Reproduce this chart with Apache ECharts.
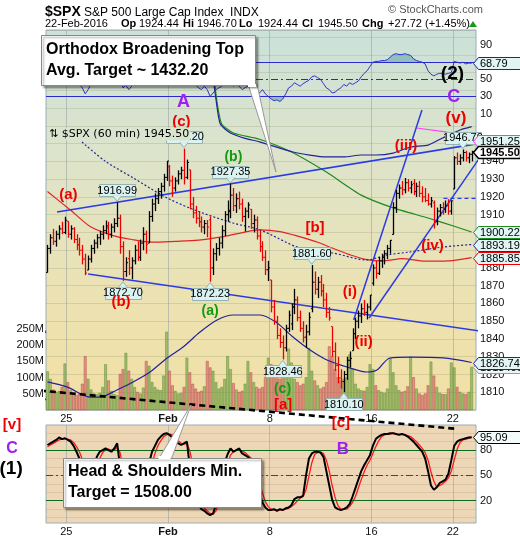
<!DOCTYPE html>
<html>
<head>
<meta charset="utf-8">
<title>$SPX 60 min</title>
<script src="https://cdn.jsdelivr.net/npm/echarts@6.0.0/dist/echarts.min.js"></script>
<style>
html,body{margin:0;padding:0;background:#fff;}
#chart{width:520px;height:540px;}
</style>
</head>
<body>
<div id="chart"></div>
<script>
// ---------------------------------------------------------------
// $SPX hourly bars, 22-Jan-2016 .. 22-Feb-2016, 7 bars per session
// ---------------------------------------------------------------
const sessionStarts = [7, 42, 77, 112, 140];
const sessionLabels = ['25', 'Feb', '8', '16', '22'];

// [open, high, low, close]
const ohlc = [
  // Jan 22
  [1877.4,1893,1877.4,1891],[1891,1899,1888,1897],[1897,1902,1893,1895],[1895,1901,1892,1899],[1899,1904,1896,1902],[1902,1906,1899,1900],[1900,1908.85,1899,1906.9],
  // Jan 25
  [1906.3,1906.3,1897,1899],[1899,1904,1896,1902],[1902,1903,1894,1896],[1896,1899,1890,1893],[1893,1897,1887,1890],[1890,1893,1882,1885],[1885,1888,1875.97,1877.08],
  // Jan 26
  [1878.8,1887,1878.8,1885],[1885,1893,1883,1891],[1891,1896,1888,1894],[1894,1899,1891,1897],[1897,1901,1893,1899],[1899,1904,1896,1901],[1901,1906.7,1899,1903.63],
  // Jan 27
  [1902.5,1906,1896,1899],[1899,1905,1897,1903],[1903,1908,1900,1905],[1905,1916.99,1903,1908],[1908,1910,1888,1892],[1892,1895,1872.7,1878],[1878,1886,1875,1882.95],
  // Jan 28
  [1885.2,1890,1876,1880],[1880,1886,1873.65,1884],[1884,1893,1882,1890],[1890,1895,1884,1886],[1886,1896,1884,1894],[1894,1902.96,1890,1899],[1899,1901,1888,1893.36],
  // Jan 29
  [1894,1912,1894,1909],[1909,1919,1906,1916],[1916,1922,1912,1919],[1919,1925,1916,1923],[1923,1928,1919,1926],[1926,1933,1923,1931],[1931,1940.24,1929,1940.24],
  // Feb 1
  [1936.9,1938,1926,1929],[1929,1932,1920.03,1925],[1925,1931,1923,1929],[1929,1935,1927,1933],[1933,1937,1930,1935],[1935,1947.2,1927,1931],[1931,1941,1930,1939.38],
  // Feb 2
  [1935.26,1935.26,1913,1916],[1916,1920,1908,1911],[1911,1915,1905,1908],[1908,1912,1903,1906],[1906,1909,1900,1903],[1903,1907,1899,1905],[1905,1907,1897.29,1903.03],
  // Feb 3
  [1907.07,1909,1872.23,1880],[1880,1891,1876,1888],[1888,1894,1884,1891],[1891,1897,1887,1894],[1894,1904,1891,1901],[1901,1912,1898,1910],[1910,1918.01,1906,1912.53],
  // Feb 4
  [1911.67,1927.35,1908,1921],[1921,1925,1912,1915],[1915,1922,1911,1919],[1919,1923,1913,1916],[1916,1919,1906,1909],[1909,1914,1900.52,1912],[1912,1917,1908,1915.45],
  // Feb 5
  [1913.07,1913.07,1902,1905],[1905,1910,1900,1907],[1907,1909,1896,1898],[1898,1901,1889,1892],[1892,1895,1884,1886],[1886,1890,1876,1879],[1879,1884,1872.65,1880.05],
  // Feb 8
  [1873.25,1873.25,1855,1858],[1858,1862,1848,1850],[1850,1853,1840,1842],[1842,1846,1835,1838],[1838,1842,1828.46,1835],[1835,1848,1833,1846],[1846,1856,1844,1853.44],
  // Feb 9
  [1848.46,1860,1845,1858],[1858,1868.25,1854,1862],[1862,1864,1850,1852],[1852,1856,1844,1846],[1846,1850,1838,1841],[1841,1848,1834.94,1844],[1844,1855,1842,1852.21],
  // Feb 10
  [1857.1,1881.6,1855,1872],[1872,1878,1865,1868],[1868,1875,1863,1872],[1872,1876,1864,1867],[1867,1871,1858,1862],[1862,1866,1852,1855],[1855,1858,1850.32,1851.86],
  // Feb 11
  [1847,1847,1830,1833],[1833,1838,1822,1825],[1825,1830,1815,1818],[1818,1823,1812,1816],[1816,1822,1810.1,1820],[1820,1830,1817,1828],[1828,1833,1824,1829.08],
  // Feb 12
  [1833.4,1846,1833.4,1843],[1843,1852,1840,1850],[1850,1856,1846,1853],[1853,1860,1849,1857],[1857,1862,1853,1855],[1855,1860,1851,1858],[1858,1864.78,1856,1864.78],
  // Feb 16
  [1871.44,1882,1870,1880],[1880,1884,1874,1877],[1877,1886,1876,1884],[1884,1888,1880,1886],[1886,1890,1882,1888],[1888,1893,1885,1891],[1891,1895.77,1888,1895.58],
  // Feb 17
  [1898.8,1917,1898.8,1914],[1914,1924,1911,1922],[1922,1927,1919,1925],[1925,1929,1921,1924],[1924,1930.68,1922,1928],[1928,1930,1923,1925],[1925,1929,1922,1926.82],
  // Feb 18
  [1927.57,1930,1921,1923],[1923,1928,1920,1926],[1926,1929,1920,1922],[1922,1926,1917,1920],[1920,1925,1917,1918],[1918,1922,1915.09,1916],[1916,1920,1914,1917.83],
  // Feb 19
  [1916.74,1918,1902.17,1906],[1906,1914,1904,1912],[1912,1916,1909,1914],[1914,1917,1910,1913],[1913,1918,1911,1915],[1915,1918.78,1910,1912],[1912,1918,1910,1917.78],
  // Feb 22
  [1924.44,1943,1924.44,1942],[1942,1945,1938,1940],[1940,1944,1938,1942],[1942,1946.7,1940,1945],[1945,1946,1940,1942],[1942,1945,1939,1944],[1944,1946,1940,1945.5]
];

// hourly volume, millions of shares
const volumeM = [
  118,95,62,55,58,70,142,   85,60,48,45,50,80,165,   95,62,50,48,52,70,140,
  90,58,48,45,110,125,175,  120,95,70,55,50,68,150,  135,85,70,62,60,105,240,
  120,75,58,50,52,70,160,   115,80,65,55,58,72,150,  130,120,85,65,70,95,165,
  125,82,62,55,58,80,150,   115,85,70,65,70,100,160, 140,120,110,95,100,110,188,
  145,95,85,75,80,100,190,  120,90,75,65,70,85,195,  165,125,100,90,95,100,170,
  125,80,65,60,58,70,140,   125,75,60,55,52,65,160,  115,75,60,55,58,72,163,
  100,65,50,45,50,75,148,   105,70,52,48,48,65,145,  130,70,55,50,48,55,131.3409
];

// RSI(14)
const rsi14 = [
  48,52,55,54,57,58,62,  60,58,52,47,44,40,33,  38,45,50,53,55,58,59,
  57,60,62,64,52,40,43,  38,42,49,45,52,56,52,  58,64,67,70,72,75,80,
  70,66,68,70,72,73,74,  55,48,44,40,38,42,38,  30,34,38,40,42,45,47,
  46,42,44,42,38,40,42,  40,41,36,34,38,33,30,  27,25,26,24,27,33,40,
  42,46,44,42,45,47,49,  53,54,52,50,45,40,38,  34,35,38,40,44,42,46,
  44,46,48,53,57,60,65,  70,71,71,72,72,73,76,  79,80,79,79,80,79,78,
  74,72,71,70,68,60,56,  54,56,57,57,56,57,58,  71,70,69,70,68,69,68.79
];

// Slow stochastic %K and %D
const stochK = [
  86,88,90,92,95,93,94,  92,90,85,78,70,60,48,  30,45,60,72,78,80,82,
  80,78,82,88,60,30,25,  15,20,35,30,45,55,50,  65,78,85,92,96,99,100,
  98,95,90,88,86,88,90,  60,40,25,15,10,8,5,    3,5,15,30,50,65,75,
  82,78,80,82,76,74,72,  68,55,40,28,18,12,9,   9,10,8,10,9,11,12,
  15,22,24,24,26,50,70,  76,78,78,77,72,55,38,  21,12,10,9,10,12,16,
  25,35,45,55,62,68,74,  85,93,96,98,99,99,100, 100,99,98,99,98,96,93,
  90,86,82,78,70,55,38,  33,36,41,43,45,52,68,  85,90,92,93,94,95,95.09
];
const stochD = [
  84,86,88,90,92,93,94,  93,92,89,84,78,69,59,  46,41,45,59,70,77,80,
  81,80,80,83,77,59,38,  23,20,23,28,37,43,50,  57,64,76,85,91,96,98,
  99,98,94,91,88,87,88,  79,63,42,27,17,11,8,   5,4,8,17,32,48,63,
  74,78,80,80,79,77,74,  71,65,54,41,29,19,13,  10,9,9,9,9,10,11,
  13,16,20,23,25,33,49,  65,75,77,78,76,68,55,  38,24,14,10,10,10,13,
  18,25,35,45,54,62,68,  76,84,91,96,98,99,99,  100,99,99,99,98,97,96,
  93,90,86,82,77,68,54,  43,36,38,40,43,47,55,  68,81,89,92,93,94,95
];

// overlays as [bar, value]
const smaRed = [[0,1923],[8,1912.5],[15,1903],[22,1898.5],[29,1896],[36,1894.5],[44,1895],[52,1895.7],[60,1897.5],[66,1899.5],[73,1901.4],[80,1900.5],[87,1897.5],[93,1894.5],[98,1891.2],[104,1887.5],[110,1884.7],[116,1884],[122,1885.3],[130,1883.8],[138,1884],[146,1885.85]];
const smaGreen = [[57,1992],[58.5,1972],[60,1961],[64,1956],[73,1952.5],[84,1945.3],[96,1934],[108,1921],[119,1913.8],[131,1908.1],[140,1903.5],[146,1900.22]];
const bbUpper = [[56.5,1994],[58,1975],[59.5,1961],[63,1956],[68,1953],[73,1951],[84.5,1945.3],[96,1942.5],[102,1942.5],[108,1943.6],[113,1943.6],[119,1944.7],[125,1948.1],[131,1949.2],[136,1953.2],[142,1957.7],[146,1959.6]];
const bbMiddle = [[11.9,1950.9],[20,1940],[29.5,1930.7],[41.2,1919.4],[52.5,1911.5],[63.9,1905.3],[73.2,1901.4],[86.9,1891.2],[98.3,1888.4],[110,1884.5],[116.9,1887.3],[124.8,1889],[136.2,1891.8],[146,1893.19]];
const bbLower = [[0,1815.8],[6.7,1813],[14.6,1807.3],[18.1,1807.3],[23.9,1811.3],[29.5,1815.8],[35.3,1821.4],[41.2,1829.3],[46.7,1835.5],[52.5,1843.9],[58.4,1850.7],[63.9,1853.5],[73.2,1853.5],[79,1849],[84.5,1841.1],[90.4,1833.8],[96.2,1828.2],[103.1,1824.2],[110,1821.4],[113.4,1822.5],[117.9,1829.3],[124.8,1829.8],[136.2,1829.3],[146,1826.74]];
const channelTop = [[127,1958.8],[137,1956.6],[146,1951.25]];

// hand-drawn lines as [bar position, price]
const broadeningUpper = [[3.8,1911.5],[152.8,1951.1]];
const broadeningLower = [[14.5,1876.6],[163.2,1841.1]];
const waveThreeLine = [[105.9,1850.7],[129.4,1969]];
const waveFourLine = [[111.2,1851.8],[152.8,1950.4]];
const necklineHS = [[-15.8,1813],[141.8,1789.3]];
const leftLineA = [[-15.8,1890.1],[0,1843.4]];
const leftLineB = [[-15.8,1836.6],[0,1805.6]];
const breakLevel = [[136.8,1919.2],[148,1919.2]];

// swing high / low callouts: [bar, price, 'hi'|'lo']
const swingPoints = [
  [24,1916.99,'hi'],[47,1947.20,'hi'],[63,1927.35,'hi'],[91,1881.60,'hi'],[143,1946.70,'hi'],
  [26,1872.70,'lo'],[56,1872.23,'lo'],[81,1828.46,'lo'],[102,1810.10,'lo']
];

// ---------------------------------------------------------------
const RED = '#ee0000', GREEN = '#119911', PURPLE = '#a020f0', NAVY = '#22229a', BLUE = '#2b3be6';
const FONT = '"Liberation Sans", Arial, sans-serif';
const last = a => { const v = a[a.length - 1]; return Array.isArray(v) ? v[1] : v; };
const perBar = a => a.map((v, i) => [i + 0.5, v]);
const atBar = a => a.map(([i, v]) => [i + 0.5, v]);
const upFlags = ohlc.map((d, i) => (i === 0 ? d[3] >= d[0] : d[3] >= ohlc[i - 1][3]) ? 1 : 0);

// Elliott wave labels, positioned in axis units
const waveLabels = [
  { t: 'A', at: [47.3, 1973.7], c: PURPLE, s: 18 },
  { t: 'C', at: [140.3, 1976], c: PURPLE, s: 18 },
  { t: '(2)', at: [139.9, 1989.5], c: '#000', s: 19 },
  { t: '(c)', at: [46.6, 1962.2], c: RED, s: 15 },
  { t: '(b)', at: [64.5, 1942.2], c: GREEN, s: 14 },
  { t: '(a)', at: [7.7, 1921.4], c: RED, s: 15 },
  { t: '(b)', at: [25.8, 1861.1], c: RED, s: 15 },
  { t: '(a)', at: [56.5, 1855.5], c: GREEN, s: 14 },
  { t: '[b]', at: [92.6, 1902.8], c: RED, s: 15 },
  { t: '(i)', at: [104.6, 1866.7], c: RED, s: 15 },
  { t: '(ii)', at: [109.3, 1838.6], c: RED, s: 15 },
  { t: '(iii)', at: [123.9, 1949], c: RED, s: 15 },
  { t: '(iv)', at: [133, 1892.6], c: RED, s: 15 },
  { t: '(v)', at: [141.1, 1964.2], c: RED, s: 17 },
  { t: '(c)', at: [81.4, 1811.8], c: GREEN, s: 14 },
  { t: '[a]', at: [81.6, 1803.1], c: RED, s: 15 },
  { t: '[c]', at: [101.5, 1793], c: RED, s: 15 },
  { t: '[v]', at: [-11.7, 1791.8], c: RED, s: 15 },
  { t: 'C', at: [-11.7, 1778], c: PURPLE, s: 16 },
  { t: '(1)', at: [-12, 1767], c: '#000', s: 19 }
];
const lowerLabels = [{ t: 'B', at: [102.2, 81.3], c: PURPLE, s: 17 }];

function labelSeries(list, xi, yi) {
  return {
    type: 'custom', xAxisIndex: xi, yAxisIndex: yi, clip: false, silent: true, z: 20,
    data: list.map(d => d.at),
    renderItem(params, api) {
      const d = list[params.dataIndex];
      const p = api.coord(d.at);
      return { type: 'text', style: { x: p[0], y: p[1], text: d.t, fill: d.c,
        font: 'bold ' + d.s + 'px ' + FONT, align: 'center', verticalAlign: 'middle' } };
    }
  };
}

function lineSeries(data, color, width, type, extra) {
  return Object.assign({
    type: 'line', xAxisIndex: 0, yAxisIndex: 0, data, symbol: 'none', silent: true,
    clip: false, lineStyle: { color, width, type: type || 'solid' }, z: 6, animation: false
  }, extra || {});
}

function tagSeries(xi, yi, value, text, opt) {
  return {
    type: 'custom', xAxisIndex: xi, yAxisIndex: yi, clip: false, silent: true, z: opt.z || 30,
    data: [[148, value]],
    renderItem(params, api) {
      const p = api.coord([148, value]);
      const x = Math.round(p[0]) + 0.5, y = Math.round(p[1]) + 0.5, w = opt.w || 44, h = 12;
      return { type: 'group', children: [
        { type: 'polygon', shape: { points: [[x - 3, y], [x + 2, y - h / 2], [x + w, y - h / 2], [x + w, y + h / 2], [x + 2, y + h / 2]] },
          style: { fill: opt.fill || '#e2f5f5', stroke: opt.stroke, lineWidth: opt.lw || 1 } },
        { type: 'text', style: { x: x + 3.5, y: y + 0.5, text, fill: '#000', align: 'left', verticalAlign: 'middle',
          font: (opt.bold ? 'bold ' : '') + '11px ' + FONT } }
      ] };
    }
  };
}

const gridBg = new echarts.graphic.LinearGradient(0, 0, 0, 1, [
  { offset: 0, color: '#cbe1d9' }, { offset: 0.33, color: '#dde4ca' },
  { offset: 0.7, color: '#ece2b2' }, { offset: 1, color: '#f2e0a4' }
]);

const xAxisBase = gi => ({
  gridIndex: gi, type: 'value', min: 0, max: 148,
  axisLine: { show: false },
  axisTick: { show: false, customValues: sessionStarts },
  splitLine: { show: true, lineStyle: { color: 'rgba(150,160,160,0.55)', width: 1 } },
  axisLabel: {
    customValues: sessionStarts, margin: 3, color: '#111', fontFamily: FONT, fontSize: 11,
    formatter: v => { const t = sessionLabels[sessionStarts.indexOf(v)] || ''; return t === 'Feb' ? '{b|Feb}' : t; },
    rich: { b: { fontWeight: 'bold', fontSize: 11, fontFamily: FONT, color: '#111' } }
  }
});

const option = {
  animation: false,
  backgroundColor: '#ffffff',
  grid: [
    { left: 46, top: 30, width: 430, height: 380, show: true, backgroundColor: gridBg, borderColor: '#98aeb8', borderWidth: 1 },
    { left: 46, top: 425, width: 430, height: 98, show: true, backgroundColor: '#edd7b7', borderColor: '#98aeb8', borderWidth: 1 }
  ],
  xAxis: [xAxisBase(0), xAxisBase(1)],
  yAxis: [
    { // price
      gridIndex: 0, type: 'value', position: 'right', min: 1800, max: 2014, interval: 10,
      axisLine: { show: false }, axisTick: { show: false },
      splitLine: { show: true, lineStyle: { color: 'rgba(150,150,120,0.28)', width: 1 } },
      axisLabel: { margin: 4, color: '#111', fontFamily: FONT, fontSize: 11,
        formatter: v => (v >= 1810 && v <= 1950) ? String(v) : '' }
    },
    { // RSI overlay
      gridIndex: 0, type: 'value', position: 'right', min: -336.7, max: 107.7,
      axisLine: { show: false }, axisTick: { show: false }, splitLine: { show: false },
      axisLabel: { customValues: [90, 50, 30, 10], margin: 4, color: '#111', fontFamily: FONT, fontSize: 11 }
    },
    { // volume
      gridIndex: 0, type: 'value', position: 'left', min: 0, max: 1169,
      axisLine: { show: false }, axisTick: { show: false }, splitLine: { show: false },
      axisLabel: { customValues: [50, 100, 150, 200, 250], margin: 2, color: '#111', fontFamily: FONT, fontSize: 11,
        formatter: v => v + 'M' }
    },
    { // stochastic
      gridIndex: 1, type: 'value', position: 'right', min: -6.4, max: 109.7,
      axisLine: { show: false },
      axisTick: { show: false, customValues: [0, 10, 20, 30, 40, 50, 60, 70, 80, 90, 100] },
      splitLine: { show: true, lineStyle: { color: 'rgba(190,160,130,0.35)', width: 1 } },
      axisLabel: { customValues: [80, 50, 20], margin: 4, color: '#111', fontFamily: FONT, fontSize: 11 }
    }
  ],
  graphic: [],
  series: []
};

const S = option.series;

// volume bars
S.push({
  type: 'custom', xAxisIndex: 0, yAxisIndex: 2, silent: true, z: 1,
  data: volumeM.map((v, i) => [i + 0.5, v, upFlags[i]]),
  renderItem(params, api) {
    const p = api.coord([api.value(0), api.value(1)]);
    const b = api.coord([api.value(0), 0]);
    const up = api.value(2) === 1;
    return { type: 'rect', shape: { x: p[0] - 1.1, y: p[1], width: 2.2, height: b[1] - p[1] },
      style: { fill: up ? 'rgba(115,165,70,0.62)' : 'rgba(205,90,95,0.55)',
               stroke: up ? 'rgba(95,140,55,0.8)' : 'rgba(185,70,75,0.8)', lineWidth: 0.6 } };
  }
});

// RSI fills beyond 70 / 30
S.push({ type: 'line', xAxisIndex: 0, yAxisIndex: 1, silent: true, z: 2, symbol: 'none',
  data: perBar(rsi14.map(v => Math.max(v, 70))), lineStyle: { width: 0 },
  areaStyle: { origin: 70, color: 'rgba(70,150,160,0.65)' } });
S.push({ type: 'line', xAxisIndex: 0, yAxisIndex: 1, silent: true, z: 2, symbol: 'none',
  data: perBar(rsi14.map(v => Math.min(v, 30))), lineStyle: { width: 0 },
  areaStyle: { origin: 30, color: 'rgba(70,150,160,0.65)' } });
// RSI line with 70 / 50 / 30 guides
S.push({ type: 'line', xAxisIndex: 0, yAxisIndex: 1, silent: true, z: 3, symbol: 'none',
  data: perBar(rsi14), lineStyle: { color: '#3333cc', width: 1 },
  markLine: { silent: true, symbol: 'none', label: { show: false }, animation: false,
    data: [
      { yAxis: 70, lineStyle: { color: '#2a2acc', width: 1.2, type: 'solid' } },
      { yAxis: 30, lineStyle: { color: '#2a2acc', width: 1.2, type: 'solid' } },
      { yAxis: 50, lineStyle: { color: '#2a2acc', width: 1, type: [7, 3, 2, 3] } }
    ] } });

// moving averages and bands
S.push(lineSeries(atBar(smaRed), '#e02424', 1.2, 'solid', { smooth: 0.3, clip: true }));
S.push(lineSeries(atBar(smaGreen), '#1f8a1f', 1.2, 'solid', { smooth: 0.2, clip: true }));
S.push(lineSeries(atBar(bbUpper), NAVY, 1.2, 'solid', { smooth: 0.2, clip: true }));
S.push(lineSeries(atBar(bbMiddle), NAVY, 1.2, [2, 2], { smooth: 0.3, clip: true }));
S.push(lineSeries(atBar(bbLower), NAVY, 1.2, 'solid', { smooth: 0.3, clip: true }));
S.push(lineSeries(atBar(channelTop), '#ff44ff', 1.2, 'solid', { clip: true }));

// OHLC bars
S.push({
  type: 'custom', xAxisIndex: 0, yAxisIndex: 0, silent: true, z: 8,
  data: ohlc.map((d, i) => [i + 0.5, d[0], d[1], d[2], d[3], upFlags[i]]),
  renderItem(params, api) {
    const x = Math.round(api.coord([api.value(0), 0])[0]) + 0.5;
    const y = v => api.coord([0, v])[1];
    const col = api.value(5) === 1 ? '#000' : RED;
    return { type: 'group', children: [
      { type: 'line', shape: { x1: x, y1: y(api.value(2)), x2: x, y2: y(api.value(3)) }, style: { stroke: col, lineWidth: 1.3 } },
      { type: 'line', shape: { x1: x - 1.5, y1: y(api.value(1)), x2: x, y2: y(api.value(1)) }, style: { stroke: col, lineWidth: 1 } },
      { type: 'line', shape: { x1: x, y1: y(api.value(4)), x2: x + 1.5, y2: y(api.value(4)) }, style: { stroke: col, lineWidth: 1 } }
    ] };
  }
});

// drawn trend lines
S.push(lineSeries(broadeningUpper, BLUE, 1.5));
S.push(lineSeries(broadeningLower, BLUE, 1.5));
S.push(lineSeries(waveThreeLine, BLUE, 1.5));
S.push(lineSeries(waveFourLine, BLUE, 1.5));
S.push(lineSeries(leftLineA, BLUE, 1.3));
S.push(lineSeries(leftLineB, BLUE, 1.3));
S.push(lineSeries(breakLevel, BLUE, 1.2, [4, 3]));
S.push(lineSeries(necklineHS, '#000', 2.6, [6, 4], { z: 9 }));

// swing high / low callouts
S.push({
  type: 'custom', xAxisIndex: 0, yAxisIndex: 0, clip: false, silent: true, z: 12,
  data: swingPoints.map(d => [d[0] + 0.5, d[1]]),
  renderItem(params, api) {
    const d = swingPoints[params.dataIndex];
    const p = api.coord([d[0] + 0.5, d[1]]);
    const x = p[0], y = p[1], hi = d[2] === 'hi';
    const bw = 36, bh = 12;
    const by = hi ? y - 6 - bh : y + 6;
    const ty = hi ? y - 6 : y + 6;
    return { type: 'group', children: [
      { type: 'rect', shape: { x: Math.round(x - bw / 2) + 0.5, y: Math.round(by) + 0.5, width: bw, height: bh },
        style: { fill: '#daf2f0', stroke: '#93b3b3', lineWidth: 1 } },
      { type: 'polygon', shape: { points: [[x - 4, ty], [x + 4, ty], [x, hi ? y - 1 : y + 1]] },
        style: { fill: '#daf2f0', stroke: '#93b3b3', lineWidth: 1 } },
      { type: 'line', shape: { x1: x - 3.3, y1: ty, x2: x + 3.3, y2: ty }, style: { stroke: '#daf2f0', lineWidth: 1.5 } },
      { type: 'text', style: { x: x, y: by + bh / 2 + 0.5, text: d[1].toFixed(2), fill: '#000',
        font: '11px ' + FONT, align: 'center', verticalAlign: 'middle' } }
    ] };
  }
});

// wave labels
S.push(labelSeries(waveLabels, 0, 0));

// stochastic panel
S.push({ type: 'line', xAxisIndex: 1, yAxisIndex: 3, silent: true, z: 4, symbol: 'none',
  data: perBar(stochD), lineStyle: { color: '#ff1a1a', width: 1.3 },
  markLine: { silent: true, symbol: 'none', label: { show: false }, animation: false,
    data: [
      { yAxis: 80, lineStyle: { color: '#0d6a1a', width: 1.2, type: 'solid' } },
      { yAxis: 20, lineStyle: { color: '#0d6a1a', width: 1.2, type: 'solid' } },
      { yAxis: 50, lineStyle: { color: '#0d6a1a', width: 1, type: [7, 3, 2, 3] } }
    ] } });
S.push({ type: 'line', xAxisIndex: 1, yAxisIndex: 3, silent: true, z: 5, symbol: 'none',
  data: perBar(stochK), lineStyle: { color: '#000', width: 2 } });
S.push(labelSeries(lowerLabels, 1, 3));

// last-value tags on the right edge
S.push(tagSeries(0, 1, last(rsi14), String(last(rsi14)), { stroke: NAVY }));
S.push(tagSeries(0, 2, last(volumeM), String(Math.round(last(volumeM) * 1e6)), { stroke: '#999', fill: '#eef5f5', w: 60, z: 29 }));
S.push(tagSeries(0, 0, last(bbLower), last(bbLower).toFixed(2), { stroke: NAVY }));
S.push(tagSeries(0, 0, last(smaRed), last(smaRed).toFixed(2), { stroke: RED }));
S.push(tagSeries(0, 0, last(bbMiddle), last(bbMiddle).toFixed(2), { stroke: NAVY }));
S.push(tagSeries(0, 0, last(smaGreen), last(smaGreen).toFixed(2), { stroke: '#1f8a1f' }));
S.push(tagSeries(0, 0, last(channelTop), last(channelTop).toFixed(2), { stroke: '#ff33ff' }));
S.push(tagSeries(0, 0, ohlc[ohlc.length - 1][3], ohlc[ohlc.length - 1][3].toFixed(2), { stroke: '#000', fill: '#ffffff', bold: true, lw: 1.5, z: 31 }));
S.push(tagSeries(1, 3, last(stochK), String(last(stochK)), { stroke: '#000', fill: '#f4fbfb' }));

// header, legend and pattern notes
const txt = (x, y, text, font, fill, extra) => Object.assign({
  type: 'text', x, y, z: 100, silent: true,
  style: Object.assign({ text, font, fill: fill || '#000', verticalAlign: 'middle' }, {})
}, extra || {});
const G = option.graphic;
G.push(txt(45, 12, '$SPX', 'bold 14px ' + FONT));
G.push(txt(84, 13, 'S&P 500 Large Cap Index  INDX', '12px ' + FONT));
G.push(txt(388, 10, '© StockCharts.com', '11px ' + FONT, '#555'));
G.push(txt(45, 24, '22-Feb-2016', '11px ' + FONT));
G.push(txt(121, 24, 'Op', 'bold 11px ' + FONT));
G.push(txt(139, 24, '1924.44', '11px ' + FONT));
G.push(txt(183, 24, 'Hi', 'bold 11px ' + FONT));
G.push(txt(197, 24, '1946.70', '11px ' + FONT));
G.push(txt(239, 24, 'Lo', 'bold 11px ' + FONT));
G.push(txt(258, 24, '1924.44', '11px ' + FONT));
G.push(txt(302, 24, 'Cl', 'bold 11px ' + FONT));
G.push(txt(318, 24, '1945.50', '11px ' + FONT));
G.push(txt(362, 24, 'Chg', 'bold 11px ' + FONT));
G.push(txt(388, 24, '+27.72 (+1.45%)', '11px ' + FONT));
G.push({ type: 'polygon', z: 100, silent: true, shape: { points: [[469, 27], [477, 27], [473, 21]] }, style: { fill: '#1a9a1a' } });

// price legend inside the panel
G.push({ type: 'text', x: 48, y: 134, z: 60, silent: true,
  style: { text: '⇅ $SPX (60 min) 1945.50', font: '11px "DejaVu Sans", sans-serif', fill: '#000',
    verticalAlign: 'middle', backgroundColor: '#d9e4ce', padding: [1, 1, 1, 1] } });

// "Orthodox Broadening Top" note
G.push({ type: 'polygon', z: 90, silent: true, shape: { points: [[248, 84], [257, 84], [276, 172]] },
  style: { fill: '#fff', stroke: '#999', lineWidth: 1 } });
G.push({ type: 'rect', z: 91, silent: true, shape: { x: 41.5, y: 35.5, width: 214, height: 50 },
  style: { fill: '#fff', stroke: '#888', lineWidth: 1, shadowBlur: 2, shadowOffsetX: 2, shadowOffsetY: 2, shadowColor: 'rgba(0,0,0,0.35)' } });
G.push({ type: 'rect', z: 92, silent: true, shape: { x: 248, y: 84, width: 8, height: 3 }, style: { fill: '#fff' } });
G.push(txt(46, 50, 'Orthodox Broadening Top', 'bold 16px ' + FONT, '#000', { z: 93 }));
G.push(txt(46, 71, 'Avg. Target ~ 1432.20', 'bold 16px ' + FONT, '#000', { z: 93 }));

// "Head & Shoulders" note
G.push({ type: 'polygon', z: 90, silent: true, shape: { points: [[158, 460], [171, 460], [191, 405]] },
  style: { fill: '#fff', stroke: '#999', lineWidth: 1 } });
G.push({ type: 'rect', z: 91, silent: true, shape: { x: 63.5, y: 458.5, width: 198, height: 49 },
  style: { fill: '#fff', stroke: '#888', lineWidth: 1, shadowBlur: 2, shadowOffsetX: 2, shadowOffsetY: 2, shadowColor: 'rgba(0,0,0,0.35)' } });
G.push({ type: 'rect', z: 92, silent: true, shape: { x: 158.5, y: 456, width: 12, height: 3 }, style: { fill: '#fff' } });
G.push(txt(68, 472, 'Head & Shoulders Min.', 'bold 16px ' + FONT, '#000', { z: 93 }));
G.push(txt(68, 493, 'Target = 1508.00', 'bold 16px ' + FONT, '#000', { z: 93 }));

const chart = echarts.init(document.getElementById('chart'), null, { renderer: 'canvas', width: 520, height: 540 });
chart.setOption(option);
</script>
</body>
</html>
